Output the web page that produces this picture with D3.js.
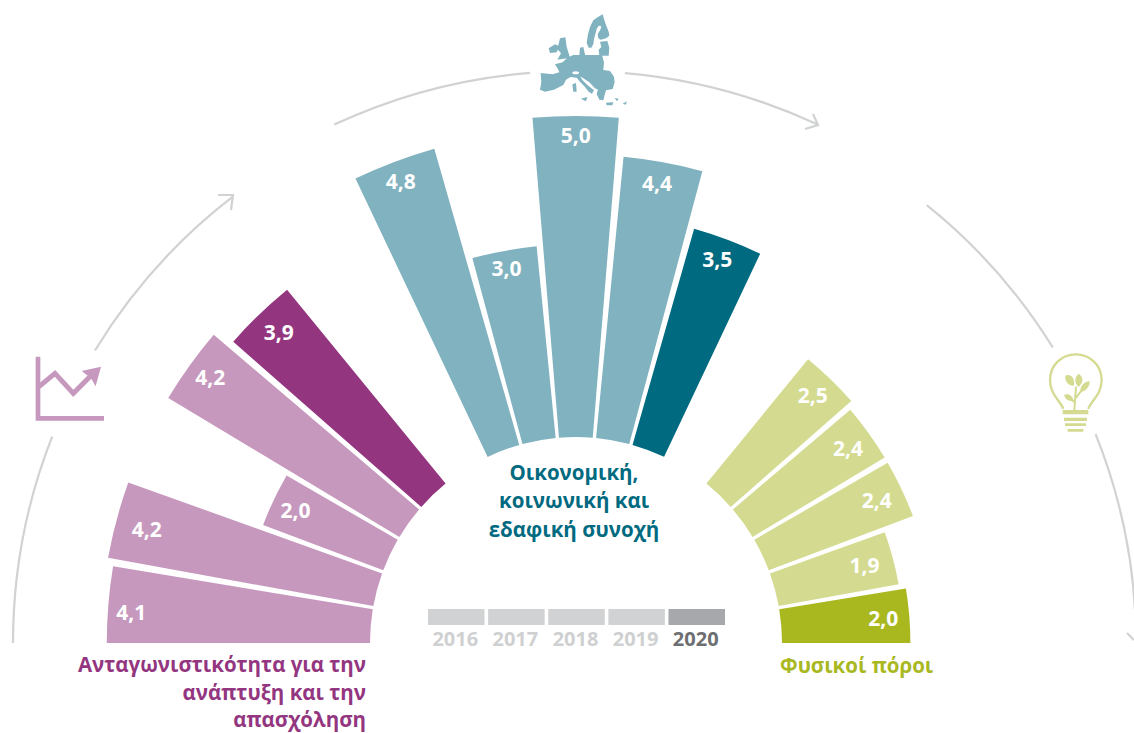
<!DOCTYPE html>
<html lang="el"><head><meta charset="utf-8">
<script src="https://cdn.jsdelivr.net/npm/d3@7"></script>
<style>html,body{margin:0;padding:0;background:#fff}svg{display:block}text{font-family:"Open Sans","Noto Sans",sans-serif;font-weight:700}</style>
</head><body><svg id="c" width="1134" height="733"></svg>
<script>
// ---- data ----
const competitiveness = [4.1, 4.2, 2.0, 4.2, 3.9];
const cohesion = [4.8, 3.0, 5.0, 4.4, 3.5];
const resources = [2.0, 1.9, 2.4, 2.4, 2.5];
const years = ["2016", "2017", "2018", "2019", "2020"];
const titleCompetitiveness = ["Ανταγωνιστικότητα για την", "ανάπτυξη και την", "απασχόληση"];
const titleCohesion = ["Οικονομική,", "κοινωνική και", "εδαφική συνοχή"];
const titleResources = ["Φυσικοί πόροι"];

// ---- geometry & scales ----
const W = 1134, H = 733, cx = 576, cy = 643;
const svg = d3.select("#c").attr("viewBox", `0 0 ${W} ${H}`);
const rScale = d3.scaleLinear().domain([0, 5]).range([206, 527]);
const deg = d => (d - 90) * Math.PI / 180;   // 0 = left horizon, 180 = right horizon
const barWidth = 9.4, step = 10.33;
const groups = [
  {vals: competitiveness, start: 0, light: "#C698BE", dark: "#93367F", order: i => i},
  {vals: cohesion, start: 64.6, light: "#80B2C0", dark: "#006A80", order: i => i},
  {vals: resources, start: 170.6, light: "#D4DB90", dark: "#A9B81F", order: i => -i}
];
// hand placement of the value labels, in bar order (layout, not data)
const labelNudge = [[-1,6],[7,4],[0,0],[1,-2],[3,1],[-2,-3],[-2,-6],[0,-5],[-2,-3],[-2,-3],[-2,1],[-5,1],[-3,1],[-1,1],[-1,-1]];
const g = svg.append("g").attr("transform", `translate(${cx},${cy})`);
const arc = d3.arc();
const bars = groups.flatMap(gr => gr.vals.map((v, i) => {
  const a0 = gr.start + gr.order(i) * step, a1 = a0 + barWidth;
  const isLatest = gr === groups[2] ? i === 0 : i === gr.vals.length - 1;
  return {v, a0, a1, fill: isLatest ? gr.dark : gr.light};
}));
g.selectAll("path.bar").data(bars).join("path").attr("class", "bar")
  .attr("fill", d => d.fill)
  .attr("d", d => arc({innerRadius: rScale(0), outerRadius: rScale(d.v), startAngle: deg(d.a0), endAngle: deg(d.a1)}));
const fmt = v => v.toFixed(1).replace(".", ",");
g.selectAll("text.val").data(bars).join("text").attr("class", "val")
  .attr("fill", "#fff").attr("font-size", 21).attr("text-anchor", "middle").attr("dy", "0.36em")
  .attr("x", (d, i) => -(rScale(d.v) - 24) * Math.cos((d.a0 + d.a1) / 2 * Math.PI / 180) + labelNudge[i][0])
  .attr("y", (d, i) => -(rScale(d.v) - 24) * Math.sin((d.a0 + d.a1) / 2 * Math.PI / 180) + labelNudge[i][1])
  .text(d => fmt(d.v));

// ---- outer guide arcs ----
const guide = [[563,0,21.5],[563,31.3,52.4],[572,65,85.4],[572,94.9,115],[561,128.7,148.2],[560,158.1,180]];
g.selectAll("path.guide").data(guide).join("path").attr("class", "guide")
  .attr("fill", "none").attr("stroke", "#D1D2D3").attr("stroke-width", 2.2)
  .attr("d", d => d3.arc()({innerRadius: d[0], outerRadius: d[0], startAngle: deg(d[1]), endAngle: deg(d[2])}));
const heads = ["M218,195L233,195L231,210", "M813,114L818,125L805,129", "M1127,633L1134,640"];
svg.selectAll("path.head").data(heads).join("path").attr("class", "head")
  .attr("fill", "none").attr("stroke", "#D1D2D3").attr("stroke-width", 2.2).attr("d", d => d);

// ---- legend ----
const legendX = d3.scaleBand().domain(years).range([428, 725]).paddingInner(0.06);
const legend = svg.append("g");
legend.selectAll("rect").data(years).join("rect")
  .attr("x", d => legendX(d)).attr("y", 609).attr("width", legendX.bandwidth()).attr("height", 16)
  .attr("fill", (d, i) => i === 4 ? "#A7A8AB" : "#D1D2D3");
legend.selectAll("text").data(years).join("text")
  .attr("x", d => legendX(d) + legendX.bandwidth() / 2 - 1).attr("y", 646).attr("text-anchor", "middle")
  .attr("font-size", 20).attr("fill", (d, i) => i === 4 ? "#6D6E70" : "#CFD0D1").text(d => d);

// ---- titles ----
function title(lines, x, ys, anchor, color, size) {
  svg.append("g").selectAll("text").data(lines).join("text")
    .attr("x", x).attr("y", (d, i) => ys[i]).attr("text-anchor", anchor)
    .attr("font-size", size).attr("fill", color).text(d => d);
}
title(titleCompetitiveness, 366, [672, 700, 727], "end", "#93367F", 20.5);
title(titleCohesion, 574, [480, 508, 537], "middle", "#006A80", 20.5);
title(titleResources, 780, [673], "start", "#A9B81F", 20.5);

// ---- icons ----
const purple = "#C698BE", greenL = "#D4DB90", tealL = "#80B2C0";
const chart = svg.append("g").attr("transform", "translate(25,345) scale(0.3333)");
chart.append("path").attr("fill", "none").attr("stroke", purple).attr("stroke-width", 14)
  .attr("d", "M39,35V220H237");
chart.append("path").attr("fill", "none").attr("stroke", purple).attr("stroke-width", 15)
  .attr("d", "M42,125L90,85L145,145L205,85");
chart.append("path").attr("fill", purple).attr("d", "M170,78L228,65L212,124L198,100Z");

const bulb = svg.append("g").attr("transform", "translate(1040,345) scale(0.3333)");
bulb.append("path").attr("fill", "none").attr("stroke", greenL).attr("stroke-width", 7)
  .attr("d", "M70,192C62,168 30,150 30,105C30,60 65,28 107,28C150,28 185,60 185,105C185,150 152,168 145,192");
bulb.append("path").attr("fill", greenL).attr("d",
  "M68,195H145V208H68ZM72,218H141V228H72ZM75,235H138V243H75ZM83,252H130V260H83Z");
bulb.append("path").attr("fill", "none").attr("stroke", greenL).attr("stroke-width", 6)
  .attr("d", "M103,195L108,125M106,160L132,128M104,172L82,155");
bulb.append("path").attr("fill", greenL).attr("d",
  "M76,92C92,84 106,100 102,122C84,122 74,108 76,92ZM116,86C130,96 132,110 116,126C102,112 103,98 116,86ZM149,108C150,125 136,142 121,140C120,124 132,110 149,108ZM72,150C85,143 98,152 101,167C86,170 76,164 72,150Z");

const map = svg.append("g").attr("transform", "translate(530,5) scale(0.3333)").attr("fill", tealL);
map.append("path").attr("d", [
  "M218,28L222,42L228,60L236,80L238,92L228,100L212,104L205,100L203,88L212,72L214,64L206,62L200,72L196,88L192,102L190,118L184,128L176,128L170,114L174,88L180,66L190,46L204,36Z",
  "M210,110L232,108L238,128L236,152L208,152L206,134L214,126Z",
  "M150,128L160,126L166,152L148,152Z",
  "M75,178L98,172L112,158L130,150L160,150L216,150L222,172L220,195L240,198L252,215L254,232L248,252L228,256L224,270L220,286L208,284L200,267L204,254L195,250L178,232L160,220L150,214L158,226L172,240L192,256L186,266L176,260L165,246L150,230L140,218L122,216L108,224L100,240L72,254L45,260L30,254L34,232L32,204L68,208L88,202L84,192Z",
  "M82,132L90,100L106,97L110,125L120,158L82,164L93,145Z",
  "M56,130L75,118L88,124L80,142L60,144Z",
  "M127,238L138,234L140,260L130,260Z",
  "M153,281L172,276L168,289Z",
  "M228,293L250,292L247,301L230,301Z",
  "M278,296L291,289L287,299Z",
  "M254,279L266,281L261,289Z"
].join(""));
map.append("ellipse").attr("cx", 137).attr("cy", 203).attr("rx", 10).attr("ry", 4.5).attr("fill", "#fff");
</script></body></html>
